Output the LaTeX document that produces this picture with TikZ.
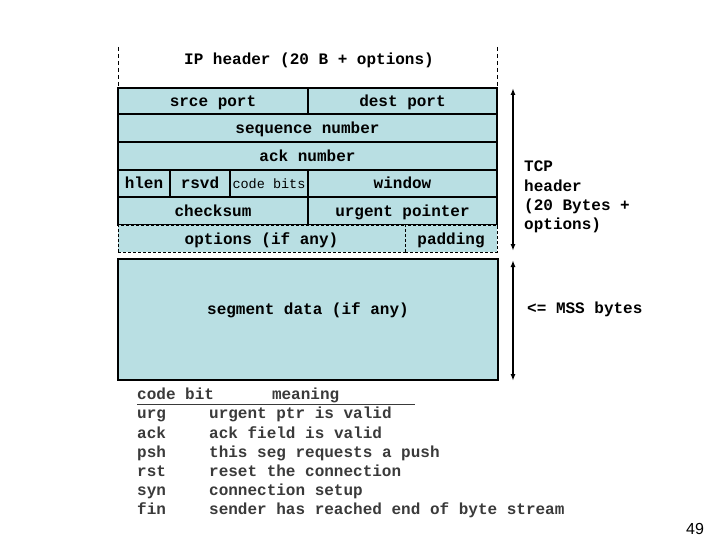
\documentclass[tikz,border=0pt]{standalone}
\usepackage{fontspec}
\setmainfont{Liberation Sans}
\setmonofont{Liberation Mono}
\usepackage{tikz}
\usetikzlibrary{arrows.meta,positioning}
\definecolor{Field}{HTML}{B9DFE3}
\definecolor{Ink}{HTML}{3A3A3A}

\begin{document}
\begin{tikzpicture}[x=1pt,y=-1pt,
  field/.style={draw=black,fill=Field,line width=1.1pt,inner sep=0pt,minimum height=27pt,text height=12.5pt,text depth=1.5pt,font=\fontsize{16}{19.2}\selectfont\ttfamily\bfseries},
  optfield/.style={field,line width=0.7pt,dash pattern=on 3pt off 2pt},
  label/.style={inner sep=0pt,font=\fontsize{16}{19.2}\selectfont\ttfamily\bfseries},
  iplimit/.style={line width=0.7pt,dash pattern=on 4pt off 3pt},
  span/.style={{Latex[length=7pt,width=5pt]}-{Latex[length=7pt,width=5pt]},line width=1.4pt}
]
\useasboundingbox (0,0) rectangle (720,540);
% IP header above the TCP header
\node[label] (iphdr) at (309,60) {IP header (20 B + options)};
\coordinate (ipl1) at (118,47);
\coordinate (ipl2) at (118,88);
\coordinate (ipr1) at (497,47);
\coordinate (ipr2) at (497,88);
\draw[iplimit] (ipl1) -- (ipl2);
\draw[iplimit] (ipr1) -- (ipr2);
% header fields
\node[field,minimum width=190pt,minimum height=26pt] (srce) at (213,101) {srce port};
\node[field,minimum width=189pt,minimum height=26pt] (dest) at (402.5,101) {dest port};
\node[field,minimum width=379pt,minimum height=28pt] (seq) at (307.5,128) {sequence number};
\node[field,minimum width=379pt,minimum height=28pt] (ack) at (307.5,156) {ack number};
\node[field,minimum width=52pt] (hlen) at (144,183.5) {hlen};
\node[field,minimum width=60pt] (rsvd) at (200,183.5) {rsvd};
\node[field,minimum width=78pt,font=\fontsize{13.5}{16}\selectfont\ttfamily] (codebits) at (269,183.5) {code bits};
\node[field,minimum width=189pt] (window) at (402.5,183.5) {window};
\node[field,minimum width=190pt,minimum height=28pt] (checksum) at (213,211) {checksum};
\node[field,minimum width=189pt,minimum height=28pt] (urgent) at (402.5,211) {urgent pointer};
\node[optfield,minimum width=287pt] (options) at (261.5,238.5) {options (if any)};
\node[optfield,minimum width=92pt] (padding) at (451,238.5) {padding};
% data part
\node[field,minimum width=380pt,minimum height=121pt,text depth=22pt] (segdata) at (308,319.5) {segment data (if any)};
% sizes at the right
\coordinate (hdrtop) at (513,88);
\coordinate (hdrbot) at (513,251);
\coordinate (datatop) at (513,260);
\coordinate (databot) at (513,381);
\draw[span] (hdrtop) -- (hdrbot);
\draw[span] (datatop) -- (databot);
\node[label,anchor=west,align=left] (tcphdr) at (524,197) {TCP\\header\\(20 Bytes +\\options)};
\node[label,anchor=west] (mss) at (527,309) {<= MSS bytes};
% code bits table
\node[label,anchor=north west,text=Ink] (codetable) at (137,386) {%
\begin{tabular}{@{}p{72pt}@{}l@{}}
\multicolumn{2}{@{}l@{}}{\underline{\makebox[278pt][l]{code bit\hspace{58pt}meaning}}}\\
urg & urgent ptr is valid\\
ack & ack field is valid\\
psh & this seg requests a push\\
rst & reset the connection\\
syn & connection setup\\
fin & sender has reached end of byte stream
\end{tabular}};
\node[font=\fontsize{16}{19.2}\selectfont\rmfamily,inner sep=0pt] (pagenum) at (695,529) {49};
\end{tikzpicture}
\end{document}
